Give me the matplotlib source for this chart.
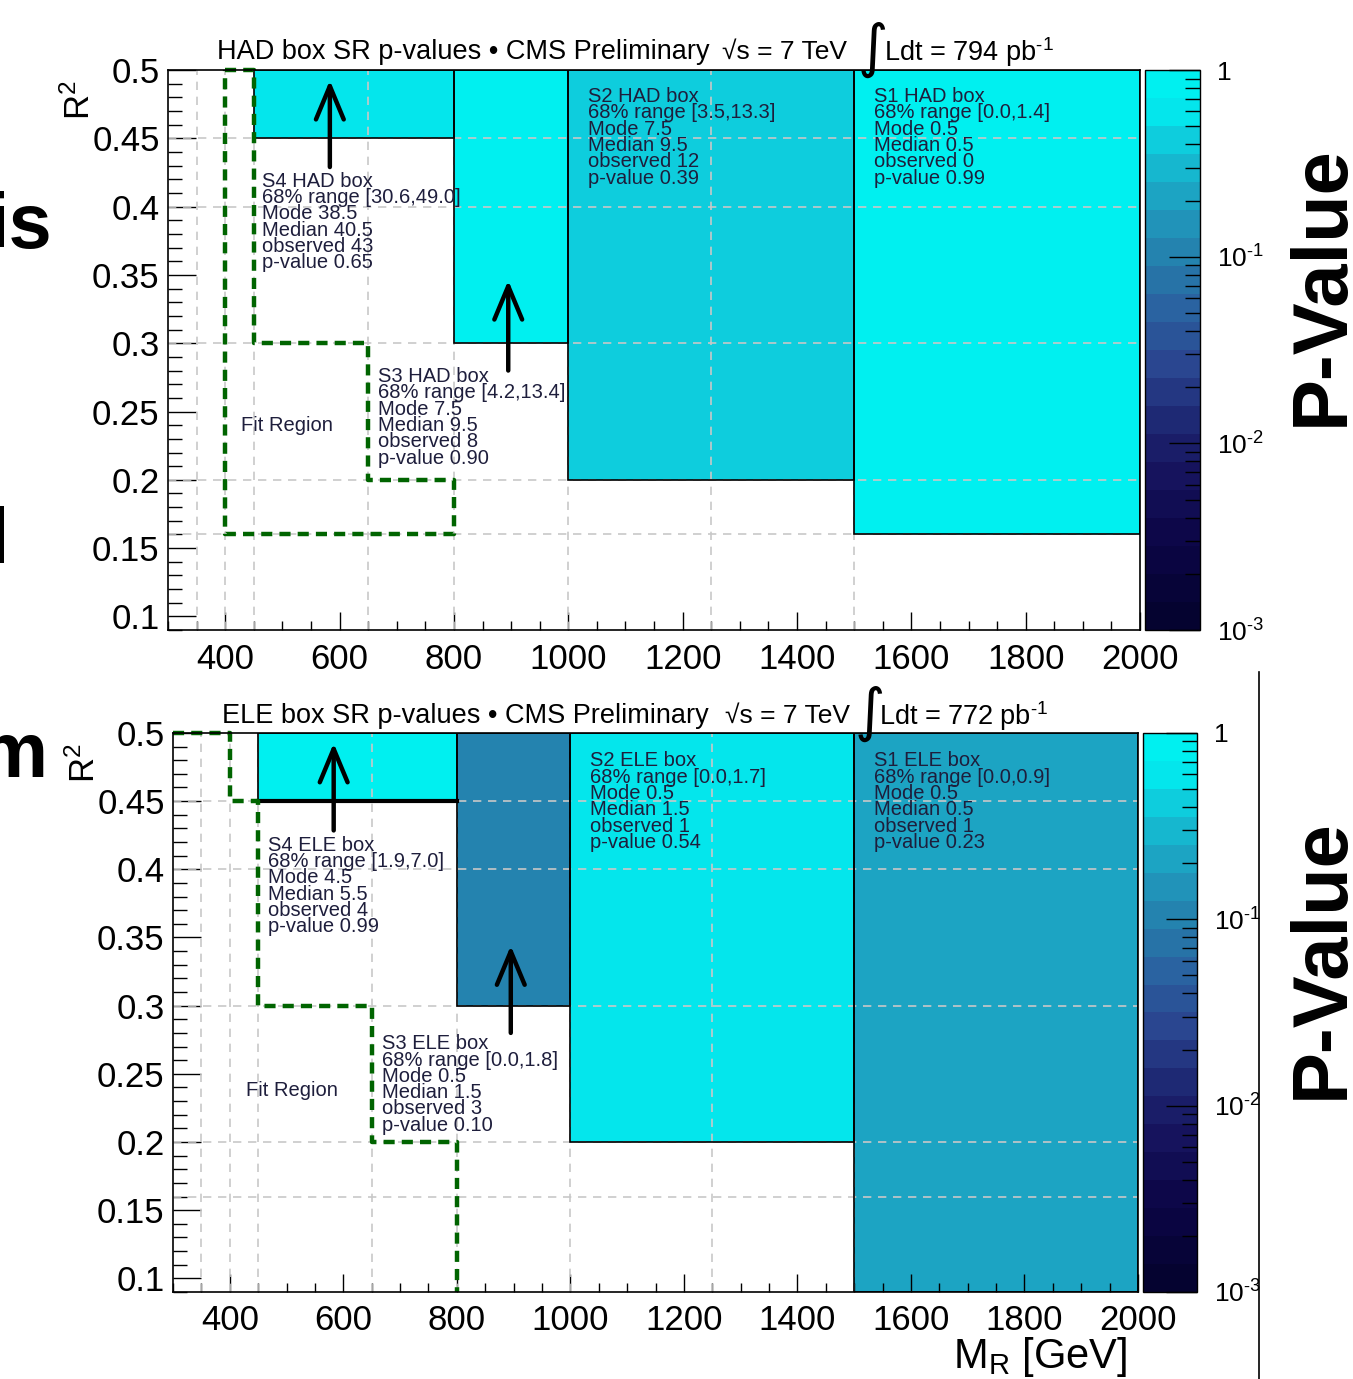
import numpy as np
import matplotlib
matplotlib.use('Agg')
import matplotlib.pyplot as plt
import matplotlib.cm as cm
from matplotlib.colors import LinearSegmentedColormap, LogNorm
from matplotlib.patches import Rectangle
from matplotlib.ticker import MultipleLocator, FixedLocator, LogLocator, NullFormatter
from matplotlib.lines import Line2D

plt.rcParams['font.family'] = ['Liberation Sans', 'DejaVu Sans']
plt.rcParams['mathtext.default'] = 'regular'

# signal region boxes S1..S4 (same M_R edges in both boxes)
box_names = ['S1', 'S2', 'S3', 'S4']
mr_lo = [1500, 1000, 800, 450]
mr_hi = [2000, 1500, 1000, 800]
r2_hi = [0.5, 0.5, 0.5, 0.5]

# HAD box
had_r2_lo = [0.16, 0.2, 0.3, 0.45]
had_range = ['[0.0,1.4]', '[3.5,13.3]', '[4.2,13.4]', '[30.6,49.0]']
had_mode = [0.5, 7.5, 7.5, 38.5]
had_median = [0.5, 9.5, 9.5, 40.5]
had_obs = [0, 12, 8, 43]
had_pval = [0.99, 0.39, 0.90, 0.65]
had_fit_mr = [400, 450, 450, 650, 650, 800, 800, 400, 400]
had_fit_r2 = [0.5, 0.5, 0.3, 0.3, 0.2, 0.2, 0.16, 0.16, 0.5]

# ELE box
ele_r2_lo = [0.09, 0.2, 0.3, 0.45]
ele_range = ['[0.0,0.9]', '[0.0,1.7]', '[0.0,1.8]', '[1.9,7.0]']
ele_mode = [0.5, 0.5, 0.5, 4.5]
ele_median = [0.5, 1.5, 1.5, 5.5]
ele_obs = [1, 1, 3, 4]
ele_pval = [0.23, 0.54, 0.10, 0.99]
ele_fit_mr = [300, 400, 400, 450, 450, 650, 650, 800, 800]
ele_fit_r2 = [0.5, 0.5, 0.45, 0.45, 0.3, 0.3, 0.2, 0.2, 0.09]

grid_mr = [350, 400, 450, 650, 800, 1000, 1250, 1500]
grid_r2 = [0.16, 0.2, 0.3, 0.4, 0.45]

cb_ticks = [1e-3, 1e-2, 1e-1, 1]
cb_labels = ['$10^{\u2011 3}$', '$10^{\u2011 2}$', '$10^{\u2011 1}$', '1']

# ROOT-like palette, 20 bands over 1e-3..1
nodes = [(0.0, '#050330'), (0.15, '#0c0648'), (0.275, '#17145f'), (0.375, '#1f2a76'),
         (0.475, '#2a4690'), (0.575, '#2a62a0'), (0.675, '#2580ad'), (0.775, '#1e9fc0'),
         (0.875, '#12c3d6'), (0.925, '#08dde8'), (0.975, '#00f0f0'), (1.0, '#00f0f0')]
cmap = LinearSegmentedColormap.from_list('pval', nodes).resampled(20)
norm = LogNorm(1e-3, 1)

txtc = '#1e1e3c'
fs_tick = 25

fig = plt.figure(figsize=(13.53, 13.79), dpi=100)


def draw_panel(ax, cax, r2_lo, rng, mode, median, obs, pval, fit_mr, fit_r2,
               box, text_xy, arrows, thick_s4):
    ax.set_xlim(300, 2000)
    ax.set_ylim(0.09, 0.5)
    for i in range(4):
        xy = (mr_lo[i], r2_lo[i])
        w = mr_hi[i] - mr_lo[i]
        h = r2_hi[i] - r2_lo[i]
        ax.add_patch(Rectangle(xy, w, h, facecolor=cmap(norm(pval[i])), edgecolor='none', zorder=1))
        ax.add_patch(Rectangle(xy, w, h, facecolor='none', edgecolor='black', lw=1.2, zorder=2.5))
        lines = ['%s %s box' % (box_names[i], box),
                 '68%% range %s' % rng[i],
                 'Mode %.1f' % mode[i],
                 'Median %.1f' % median[i],
                 'observed %d' % obs[i],
                 'p-value %.2f' % pval[i]]
        ax.text(text_xy[i][0], text_xy[i][1], '\n'.join(lines), fontsize=14.5, color=txtc,
                va='top', ha='left', linespacing=0.82, zorder=4)
    if thick_s4:
        ax.plot([mr_lo[3], mr_hi[3]], [r2_lo[3], r2_lo[3]], color='black', lw=3, zorder=3)
    for x in grid_mr:
        ax.axvline(x, color='#c8c8c8', lw=1.2, ls=(0, (5, 4)), zorder=2)
    for y in grid_r2:
        ax.axhline(y, color='#c8c8c8', lw=1.2, ls=(0, (5, 4)), zorder=2)
    ax.plot(fit_mr, fit_r2, color='#006400', lw=3.2, ls=(0, (2.5, 1.6)), zorder=3, clip_on=False)
    ax.text(text_xy[4][0], text_xy[4][1], 'Fit Region', fontsize=14.5, color=txtc,
            va='center', ha='left', zorder=4)
    for (x0, y0, y1) in arrows:
        ax.annotate('', xy=(x0, y1), xytext=(x0, y0),
                    arrowprops=dict(arrowstyle='->,head_length=24,head_width=10', mutation_scale=1,
                                    lw=3.2, color='black', shrinkA=0, shrinkB=0), zorder=5)

    ax.xaxis.set_major_locator(MultipleLocator(200))
    ax.xaxis.set_minor_locator(MultipleLocator(50))
    ax.yaxis.set_major_locator(MultipleLocator(0.05))
    ax.yaxis.set_minor_locator(MultipleLocator(0.01))
    ax.xaxis.set_major_formatter(matplotlib.ticker.FuncFormatter(lambda v, p: '%d' % v))
    ax.yaxis.set_major_formatter(matplotlib.ticker.FuncFormatter(lambda v, p: ('%.2f' % v).rstrip('0')))
    ax.tick_params(axis='x', which='major', direction='in', length=13, width=1, labelsize=fs_tick, pad=9)
    ax.tick_params(axis='x', which='minor', direction='in', length=6.5, width=1)
    ax.tick_params(axis='y', which='major', direction='in', length=20, width=1, labelsize=fs_tick, pad=6)
    ax.tick_params(axis='y', which='minor', direction='in', length=10, width=1)
    for s in ax.spines.values():
        s.set_linewidth(1.2)
        s.set_zorder(6)

    sm = cm.ScalarMappable(norm=norm, cmap=cmap)
    cb = fig.colorbar(sm, cax=cax)
    cb.outline.set_linewidth(1)
    cax.yaxis.set_major_locator(FixedLocator(cb_ticks))
    cax.yaxis.set_major_formatter(matplotlib.ticker.FixedFormatter(cb_labels))
    cax.yaxis.set_minor_locator(LogLocator(base=10, subs=np.arange(2, 10)))
    cax.yaxis.set_minor_formatter(NullFormatter())
    cax.tick_params(which='major', direction='in', length=22, width=1, labelsize=19, pad=12,
                    right=True, left=False)
    cax.tick_params(which='minor', direction='in', length=11, width=1, right=True, left=False)


# top: HAD box
ax1 = fig.add_axes([0.1242, 0.5431, 0.7184, 0.4061])
cax1 = fig.add_axes([0.8463, 0.5431, 0.0407, 0.4061])
draw_panel(ax1, cax1, had_r2_lo, had_range, had_mode, had_median, had_obs, had_pval,
           had_fit_mr, had_fit_r2, 'HAD',
           [(1535, 0.4875), (1034, 0.4875), (667, 0.2825), (465, 0.4255), (428, 0.240)],
           [(583, 0.429, 0.4925), (895, 0.280, 0.346)], False)

# bottom: ELE box
ax2 = fig.add_axes([0.1279, 0.0631, 0.7132, 0.4054])
cax2 = fig.add_axes([0.8448, 0.0631, 0.0399, 0.4054])
draw_panel(ax2, cax2, ele_r2_lo, ele_range, ele_mode, ele_median, ele_obs, ele_pval,
           ele_fit_mr, ele_fit_r2, 'ELE',
           [(1535, 0.4865), (1035, 0.4865), (668, 0.279), (467, 0.4245), (429, 0.2375)],
           [(583, 0.4285, 0.4925), (895, 0.280, 0.344)], True)

# titles
for (bx, x0, xs, xi, xl, y, lum) in [('HAD', 0.1604, 0.5335, 0.6335, 0.6534, 0.9623, 794),
                                      ('ELE', 0.1641, 0.5355, 0.6320, 0.6495, 0.4808, 772)]:
    fig.text(x0, y, '%s box SR p-values \u2022 CMS Preliminary' % bx, fontsize=19.5, va='center')
    fig.text(xs, y, '\u221as = 7 TeV', fontsize=19, va='center')
    fig.text(xi, y + 0.002, '\u222b', fontsize=42, va='center', ha='left', family='DejaVu Sans')
    fig.text(xl, y, 'Ldt = %d pb$^{\u2011 1}$' % lum, fontsize=19.5, va='center')

fig.text(0.0591, 0.942, 'R$^2$', fontsize=25, rotation=90, ha='center', va='top')
fig.text(0.0628, 0.461, 'R$^2$', fontsize=25, rotation=90, ha='center', va='top')
fig.text(0.833, 0.016, 'M$_R$ [GeV]', fontsize=30, ha='right', va='center')

# slide fragments around the plots
fig.text(0.977, 0.793, 'P-Value', fontsize=56, fontweight='bold', rotation=90, ha='center', va='center')
fig.text(0.977, 0.305, 'P-Value', fontsize=56, fontweight='bold', rotation=90, ha='center', va='center')
fig.text(0.0384, 0.8347, 'is', fontsize=56, fontweight='bold', ha='right', va='center')
fig.text(0.0067, 0.5917, 'l', fontsize=56, fontweight='bold', ha='right', va='baseline')
fig.text(0.0355, 0.4366, 'm', fontsize=56, fontweight='bold', ha='right', va='baseline')
fig.add_artist(Line2D([0.9305, 0.9305], [0.0, 0.5127], color='black', lw=1.2))

fig.savefig('out.png', dpi=100)
